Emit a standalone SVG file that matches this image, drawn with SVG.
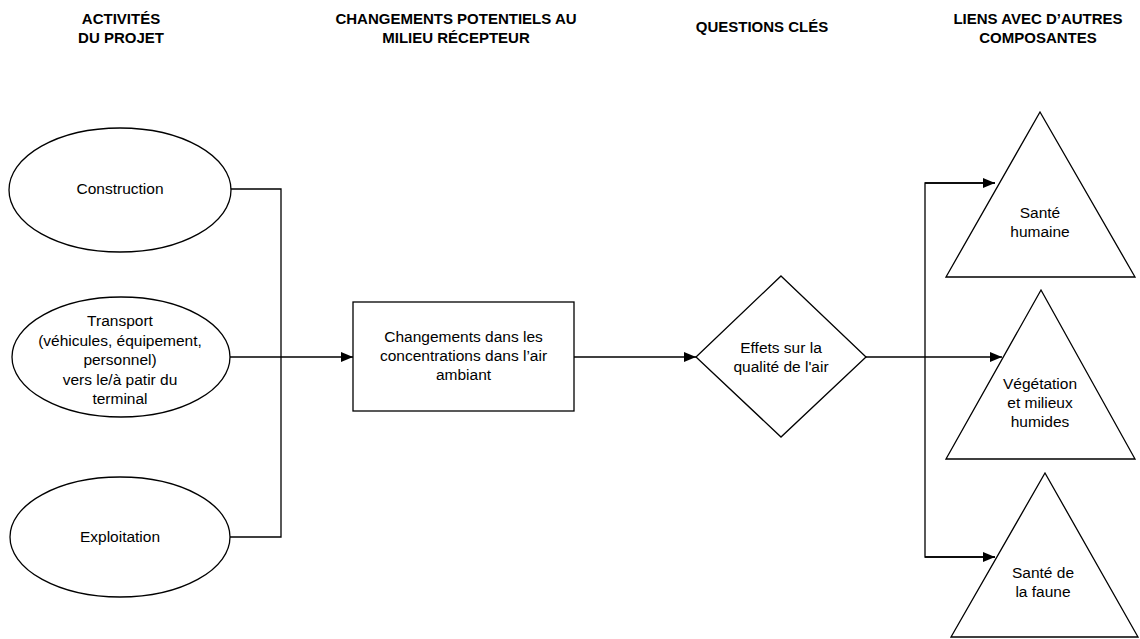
<svg xmlns="http://www.w3.org/2000/svg" width="1140" height="639" viewBox="0 0 1140 639">
  <style>
    .shape { fill: #ffffff; stroke: #000000; stroke-width: 1.3; }
    .link { fill: none; stroke: #000000; stroke-width: 1.3; }
    .head { font-family: "Liberation Sans", Arial, sans-serif; font-size: 15px; font-weight: bold; fill: #000000; text-anchor: middle; }
    .label { font-family: "Liberation Sans", Arial, sans-serif; font-size: 15.5px; fill: #000000; text-anchor: middle; }
  </style>
  <defs>
    <marker id="arrow" markerUnits="userSpaceOnUse" markerWidth="12" markerHeight="10" refX="12" refY="5" orient="auto">
      <path d="M0,0 L12,5 L0,10 Z" fill="#000000"/>
    </marker>
  </defs>
  <rect width="1140" height="639" fill="#ffffff"/>

  <!-- column headings -->
  <g id="headings">
    <text class="head" x="121" y="24">ACTIVITÉS</text>
    <text class="head" x="121" y="43">DU PROJET</text>
    <text class="head" x="456" y="24">CHANGEMENTS POTENTIELS AU</text>
    <text class="head" x="456" y="43">MILIEU RÉCEPTEUR</text>
    <text class="head" x="762" y="32">QUESTIONS CLÉS</text>
    <text class="head" x="1038" y="24">LIENS AVEC D’AUTRES</text>
    <text class="head" x="1038" y="43">COMPOSANTES</text>
  </g>

  <!-- connectors -->
  <g id="connectors">
    <path class="link" d="M230,189 H281 V537 H230"/>
    <path class="link" d="M230,357 H353" marker-end="url(#arrow)"/>
    <path class="link" d="M574,357 H696" marker-end="url(#arrow)"/>
    <path class="link" d="M866,357 H1002" marker-end="url(#arrow)"/>
    <path class="link" d="M995,183 H925 V557 H995" />
    <path class="link" d="M925,183 H995" marker-end="url(#arrow)"/>
    <path class="link" d="M925,557 H995" marker-end="url(#arrow)"/>
  </g>

  <!-- project activities -->
  <g id="construction">
    <ellipse class="shape" cx="120" cy="190" rx="111" ry="62"/>
    <text class="label" x="120" y="194">Construction</text>
  </g>
  <g id="transport">
    <ellipse class="shape" cx="121" cy="357" rx="109" ry="60"/>
    <text class="label" x="120" y="326">Transport</text>
    <text class="label" x="120" y="345.5">(véhicules, équipement,</text>
    <text class="label" x="120" y="365">personnel)</text>
    <text class="label" x="120" y="384.5">vers le/à patir du</text>
    <text class="label" x="120" y="404">terminal</text>
  </g>
  <g id="exploitation">
    <ellipse class="shape" cx="120" cy="537" rx="110" ry="60"/>
    <text class="label" x="120" y="542">Exploitation</text>
  </g>

  <!-- receiving environment change -->
  <g id="changements">
    <rect class="shape" x="353" y="302" width="221" height="109"/>
    <text class="label" x="463.5" y="342">Changements dans les</text>
    <text class="label" x="463.5" y="361">concentrations dans l’air</text>
    <text class="label" x="463.5" y="380">ambiant</text>
  </g>

  <!-- key question -->
  <g id="effets">
    <polygon class="shape" points="781,276 866,357 781,437 696,357"/>
    <text class="label" x="781" y="353">Effets sur la</text>
    <text class="label" x="781" y="372">qualité de l'air</text>
  </g>

  <!-- linked components -->
  <g id="sante-humaine">
    <polygon class="shape" points="1040,112 1135,277 946,277"/>
    <text class="label" x="1040" y="218">Santé</text>
    <text class="label" x="1040" y="237">humaine</text>
  </g>
  <g id="vegetation">
    <polygon class="shape" points="1041,290 1135,459 946,459"/>
    <text class="label" x="1040" y="389">Végétation</text>
    <text class="label" x="1040" y="408">et milieux</text>
    <text class="label" x="1040" y="427">humides</text>
  </g>
  <g id="sante-faune">
    <polygon class="shape" points="1045,473 1138,637 951,637"/>
    <text class="label" x="1043" y="578">Santé de</text>
    <text class="label" x="1043" y="597">la faune</text>
  </g>
</svg>
